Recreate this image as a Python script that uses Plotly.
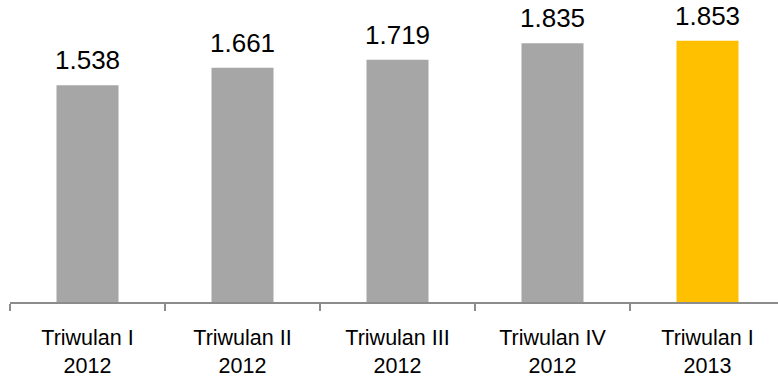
import plotly.graph_objects as go

# Quarterly values (Indonesian decimal notation in labels)
categories = ["Triwulan I<br>2012", "Triwulan II<br>2012", "Triwulan III<br>2012",
              "Triwulan IV<br>2012", "Triwulan I<br>2013"]
values = [1538, 1661, 1719, 1835, 1853]
value_labels = ["1.538", "1.661", "1.719", "1.835", "1.853"]
bar_colors = ["#a6a6a6", "#a6a6a6", "#a6a6a6", "#a6a6a6", "#ffc000"]

FONT = "Liberation Sans, Arial, sans-serif"

fig = go.Figure()
fig.add_trace(go.Bar(
    x=categories,
    y=values,
    marker=dict(color=bar_colors, line=dict(width=0)),
    width=0.4,
    hoverinfo="skip",
))

for cat, v, lab in zip(categories, values, value_labels):
    fig.add_annotation(
        x=cat, y=v, text=lab, showarrow=False,
        xanchor="center", yanchor="bottom", yshift=8,
        font=dict(family=FONT, size=26, color="#000000"),
    )

fig.update_layout(
    width=778, height=377,
    margin=dict(l=10, r=0, t=0, b=75, autoexpand=False),
    paper_bgcolor="white", plot_bgcolor="white",
    showlegend=False,
    xaxis=dict(
        type="category",
        automargin=False,
        range=[-0.5, 4.4548],
        tickson="boundaries",
        ticks="outside", ticklen=7, tickwidth=1.5, tickcolor="#8c8c8c",
        ticklabelstandoff=15,
        showline=True, linecolor="#8c8c8c", linewidth=1.5,
        showgrid=False, zeroline=False,
        tickfont=dict(family=FONT, size=21.5, color="#000000"),
    ),
    yaxis=dict(
        range=[0, 2142],
        visible=False,
        showgrid=False, zeroline=False,
    ),
)

fig.write_html("out.html")
